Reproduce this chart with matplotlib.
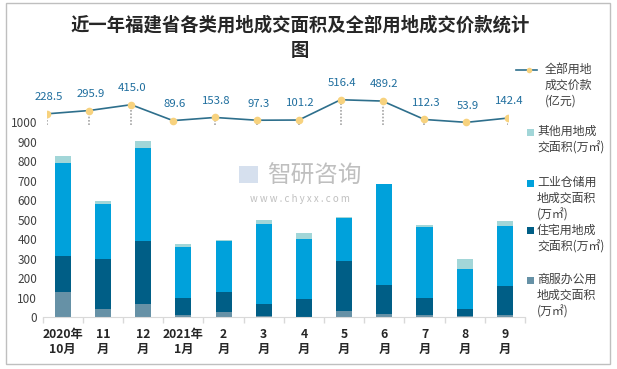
import numpy as np
import matplotlib.pyplot as plt
from matplotlib.patches import Rectangle
from matplotlib.lines import Line2D

plt.rcParams['font.family'] = ['Noto Sans CJK SC', 'DejaVu Sans']

months = ['2020年\n10月', '11\n月', '12\n月', '2021年\n1月', '2\n月', '3\n月',
          '4\n月', '5\n月', '6\n月', '7\n月', '8\n月', '9\n月']

# stacked areas (万㎡)
commercial = [130, 42, 68, 12, 27, 7, 2, 32, 17, 12, 7, 12]
residential = [184, 256, 323, 87, 103, 61, 92, 257, 148, 87, 35, 148]
industrial = [474, 282, 476, 261, 261, 410, 307, 220, 515, 364, 206, 308]
other = [38, 15, 37, 15, 5, 20, 31, 5, 3, 10, 51, 26]

# total transaction price (亿元)
price = [228.5, 295.9, 415.0, 89.6, 153.8, 97.3, 101.2, 516.4, 489.2, 112.3, 53.9, 142.4]

W, H = 617, 369
fig = plt.figure(figsize=(W / 100, H / 100), dpi=100)

# outer frame
fig.patches.append(Rectangle((6 / W, 1 - 364 / H), 604 / W, 361 / H,
                             transform=fig.transFigure, fill=False,
                             edgecolor='#BFBFBF', linewidth=1))

fig.text(300 / W, 1 - 25 / H, '近一年福建省各类用地成交面积及全部用地成交价款统计',
         ha='center', va='center', fontsize=13.2, fontweight='bold', color='#262626')
fig.text(300 / W, 1 - 51 / H, '图', ha='center', va='center',
         fontsize=13.2, fontweight='bold', color='#262626')

bottom = 1 - 317.3 / H
height = (317.3 - 80) / H
ax = fig.add_axes([42.7 / W, bottom, (525 - 42.7) / W, height])

x = np.arange(len(months))
c_com, c_res, c_ind, c_oth = '#6691A6', '#005E86', '#00A1DB', '#A2D6D8'
base = np.zeros(len(months))
for vals, col in [(commercial, c_com), (residential, c_res),
                  (industrial, c_ind), (other, c_oth)]:
    ax.bar(x, vals, 0.4, bottom=base, color=col, linewidth=0)
    base = base + np.array(vals)

ax.set_xlim(-0.5, len(months) - 0.5)
ax.set_ylim(0, 1215)
ax.set_yticks(np.arange(0, 1001, 100))
ax.set_xticks(x)
ax.set_xticklabels(months, fontsize=8.8, fontweight='bold', color='#262626',
                   linespacing=1.2)
ax.set_xticks(np.arange(-0.5, len(months), 1), minor=True)
ax.tick_params(axis='x', which='major', length=0, pad=8)
ax.tick_params(axis='x', which='minor', length=4, color='#D9D9D9', width=1)
ax.tick_params(axis='y', length=0, pad=4, labelsize=8.5, labelcolor='#404040')
for s in ['top', 'right', 'left']:
    ax.spines[s].set_visible(False)
ax.spines['bottom'].set_color('#D9D9D9')
ax.patch.set_alpha(0)

# price line on its own axes
axl = fig.add_axes([47.3 / W, bottom, 461 / W, height])
axl.set_xlim(0, len(months) - 1)
axl.set_ylim(-3933, 920)
axl.axis('off')
xl = np.arange(len(price))
axl.vlines(xl, 0, price, colors='#A6A6A6', linestyles=(0, (1, 1)), linewidth=1.2)
axl.plot(xl, price, color='#2E6F8C', linewidth=1.2, marker='o', markersize=5.5,
         markerfacecolor='#F7D27E', markeredgewidth=0, zorder=3)
for xi, v in zip(xl, price):
    axl.annotate(f'{v:.1f}', (xi, v), xytext=(1, 12), textcoords='offset points',
                 ha='center', va='center', fontsize=8.2, color='#1F6E9E')

# watermark
fig.text(314 / W, 1 - 176 / H, '智研咨询', ha='center', va='center',
         fontsize=17, color='#B0B0B0', alpha=0.8)
fig.text(300 / W, 1 - 199 / H, 'w w w . c h y x x . c o m', ha='center', va='center',
         fontsize=7, color='#B0B0B0', alpha=0.8)
fig.patches.append(Rectangle((239 / W, 1 - 183 / H), 19 / W, 17 / H,
                             transform=fig.transFigure, facecolor='#C5D3E8',
                             edgecolor='none', alpha=0.7))

# legend
leg = [('line', '#2E6F8C', '全部用地\n成交价款\n(亿元)', 70),
       ('box', c_oth, '其他用地成\n交面积(万㎡)', 132),
       ('box', c_ind, '工业仓储用\n地成交面积\n(万㎡)', 183),
       ('box', c_res, '住宅用地成\n交面积(万㎡)', 231),
       ('box', c_com, '商服办公用\n地成交面积\n(万㎡)', 280)]
for kind, col, label, yy in leg:
    if kind == 'line':
        fig.lines.append(Line2D([516 / W, 537 / W], [1 - yy / H, 1 - yy / H],
                                transform=fig.transFigure, color=col, linewidth=1.2))
        fig.lines.append(Line2D([529 / W], [1 - yy / H], transform=fig.transFigure,
                                marker='o', markersize=4, markerfacecolor='#F7D27E',
                                markeredgewidth=0))
        tx = 545
    else:
        fig.patches.append(Rectangle((527 / W, 1 - (yy + 3.5) / H), 7 / W, 7 / H,
                                     transform=fig.transFigure, facecolor=col,
                                     edgecolor='none'))
        tx = 537
    fig.text(tx / W, 1 - (yy - 7) / H, label, ha='left', va='top', fontsize=8.6,
             color='#404040', linespacing=1.3)

fig.savefig('out.png', dpi=100)
